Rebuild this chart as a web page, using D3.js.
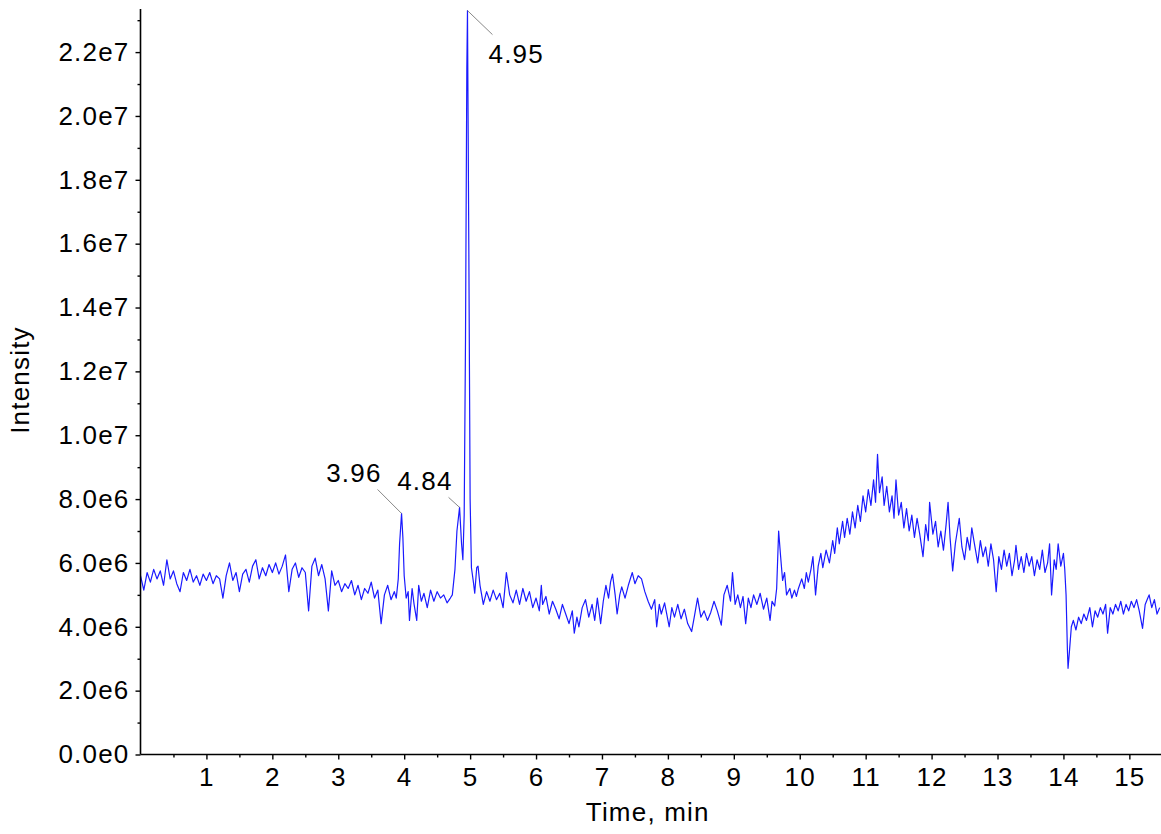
<!DOCTYPE html>
<html>
<head>
<meta charset="utf-8">
<script src="https://cdn.jsdelivr.net/npm/d3@7/dist/d3.min.js"></script>
<style>
  body { margin: 0; background: #fff; }
  text { font-family: "Liberation Sans", Arial, sans-serif; }
</style>
</head>
<body>
<div id="chart"></div>
<script>
// chromatogram trace: [time (min), intensity (x1e6)]
const trace = [
  [0.00,5.6],[0.05,5.15],[0.10,5.7],[0.15,5.4],[0.20,5.8],[0.25,5.5],[0.30,5.75],[0.35,5.3],[0.40,6.1],[0.45,5.5],
  [0.50,5.75],[0.55,5.35],[0.60,5.1],[0.65,5.7],[0.70,5.45],[0.75,5.8],[0.80,5.4],[0.85,5.6],[0.90,5.3],[0.95,5.65],
  [1.00,5.45],[1.05,5.7],[1.10,5.35],[1.15,5.6],[1.20,5.5],[1.25,4.9],[1.30,5.6],[1.35,6.0],[1.40,5.45],[1.45,5.7],
  [1.50,5.1],[1.55,5.65],[1.60,5.8],[1.65,5.4],[1.70,5.9],[1.75,6.1],[1.80,5.5],[1.85,5.85],[1.90,5.6],[1.95,5.95],
  [2.00,5.7],[2.05,6.0],[2.10,5.65],[2.15,5.9],[2.20,6.25],[2.25,5.1],[2.30,5.8],[2.35,6.0],[2.40,5.55],[2.45,5.85],
  [2.50,5.7],[2.55,4.5],[2.60,5.9],[2.65,6.15],[2.70,5.6],[2.75,5.95],[2.80,5.5],[2.85,4.5],[2.90,5.75],[2.95,5.3],
  [3.00,5.45],[3.05,5.1],[3.10,5.35],[3.15,5.2],[3.20,5.45],[3.25,5.0],[3.30,5.3],[3.35,4.85],[3.40,5.2],[3.45,5.05],
  [3.50,5.4],[3.55,4.9],[3.60,5.15],[3.65,4.1],[3.70,5.0],[3.75,5.3],[3.80,4.85],[3.85,5.1],[3.88,4.9],[3.91,5.5],
  [3.93,6.6],[3.96,7.55],[3.98,6.8],[4.00,5.6],[4.03,4.9],[4.06,5.1],[4.08,4.2],[4.12,5.2],[4.15,4.7],[4.19,4.2],
  [4.22,5.3],[4.26,4.8],[4.30,5.05],[4.35,4.6],[4.40,5.15],[4.45,4.8],[4.50,5.1],[4.55,4.9],[4.60,5.0],[4.65,4.75],
  [4.70,4.9],[4.73,5.0],[4.77,5.8],[4.80,7.0],[4.84,7.74],[4.87,6.6],[4.89,6.1],[4.91,7.5],[4.93,13.0],[4.95,21.5],
  [4.96,23.3],[4.98,16.0],[5.00,8.0],[5.02,5.85],[5.05,5.4],[5.07,5.05],[5.10,5.85],[5.12,5.9],[5.15,5.3],[5.20,4.7],
  [5.25,5.1],[5.30,4.8],[5.35,5.15],[5.40,4.85],[5.45,5.05],[5.50,4.6],[5.55,5.7],[5.60,5.0],[5.65,4.75],[5.70,5.15],
  [5.75,4.7],[5.80,5.2],[5.85,4.8],[5.90,5.1],[5.95,4.6],[6.00,4.9],[6.05,4.5],[6.08,5.3],[6.10,4.7],[6.15,4.95],
  [6.20,4.4],[6.25,4.8],[6.30,4.55],[6.35,4.25],[6.40,4.7],[6.45,4.4],[6.50,4.1],[6.55,4.5],[6.58,3.8],[6.62,4.3],
  [6.65,4.0],[6.70,4.6],[6.75,4.85],[6.80,4.3],[6.85,4.7],[6.89,4.2],[6.93,4.9],[6.98,4.1],[7.02,4.8],[7.06,5.3],
  [7.10,4.9],[7.13,5.4],[7.16,5.65],[7.20,5.0],[7.23,4.4],[7.27,5.0],[7.30,5.25],[7.35,4.9],[7.40,5.3],[7.46,5.7],
  [7.50,5.35],[7.55,5.6],[7.60,5.5],[7.65,5.1],[7.70,4.8],[7.75,4.55],[7.80,4.85],[7.83,4.0],[7.87,4.7],[7.90,4.4],
  [7.95,4.75],[8.02,4.0],[8.06,4.6],[8.10,4.3],[8.15,4.7],[8.20,4.25],[8.25,4.55],[8.30,4.1],[8.36,3.85],[8.40,4.3],
  [8.45,4.9],[8.50,4.3],[8.55,4.5],[8.60,4.2],[8.65,4.45],[8.70,4.8],[8.75,4.5],[8.81,4.05],[8.85,5.0],[8.90,5.3],
  [8.95,4.8],[8.98,5.7],[9.02,4.7],[9.06,5.0],[9.10,4.6],[9.14,4.95],[9.18,4.1],[9.22,4.9],[9.26,4.6],[9.30,5.0],
  [9.35,4.7],[9.40,5.05],[9.45,4.55],[9.50,4.9],[9.55,4.2],[9.58,4.8],[9.62,4.65],[9.65,5.2],[9.68,7.0],[9.71,6.2],
  [9.74,5.45],[9.77,5.7],[9.80,5.0],[9.85,5.2],[9.88,4.9],[9.92,5.15],[9.95,4.95],[9.98,5.2],[10.03,5.5],[10.07,5.2],
  [10.10,5.7],[10.13,5.4],[10.17,5.8],[10.20,6.2],[10.24,5.0],[10.28,5.9],[10.32,6.3],[10.35,5.85],[10.40,6.4],[10.45,6.0],
  [10.50,6.7],[10.53,6.3],[10.57,7.1],[10.60,6.6],[10.65,7.3],[10.68,6.8],[10.72,7.4],[10.76,6.9],[10.80,7.6],[10.84,7.1],
  [10.88,7.8],[10.92,7.3],[10.96,8.1],[11.00,7.6],[11.04,8.3],[11.08,7.8],[11.12,8.6],[11.15,7.9],[11.18,9.4],[11.21,8.2],
  [11.25,8.7],[11.28,7.8],[11.32,8.4],[11.36,7.6],[11.40,8.1],[11.43,7.4],[11.46,8.6],[11.50,7.5],[11.54,7.9],[11.58,7.1],
  [11.62,7.7],[11.66,7.0],[11.70,7.5],[11.74,6.8],[11.78,7.4],[11.82,6.9],[11.87,6.2],[11.91,7.2],[11.95,6.7],[11.97,7.9],
  [12.02,6.9],[12.06,7.3],[12.10,6.5],[12.14,7.0],[12.18,6.4],[12.22,7.2],[12.25,7.9],[12.28,6.8],[12.32,5.75],[12.36,6.6],
  [12.39,7.0],[12.42,7.4],[12.46,6.5],[12.50,6.1],[12.54,6.8],[12.58,6.4],[12.61,7.1],[12.65,6.6],[12.70,6.0],[12.74,6.7],
  [12.78,6.2],[12.82,6.5],[12.86,5.9],[12.90,6.6],[12.94,6.1],[12.98,5.1],[13.02,6.2],[13.06,5.8],[13.10,6.4],[13.14,5.9],
  [13.18,6.3],[13.22,5.6],[13.26,6.1],[13.28,6.55],[13.32,5.8],[13.36,6.2],[13.40,5.7],[13.44,6.3],[13.48,5.9],[13.52,6.2],
  [13.56,5.6],[13.60,6.1],[13.64,5.8],[13.68,6.4],[13.72,5.7],[13.76,6.0],[13.79,6.6],[13.82,5.0],[13.86,6.1],[13.89,5.8],
  [13.92,6.6],[13.96,5.9],[14.00,6.3],[14.02,5.8],[14.04,5.0],[14.06,3.3],[14.07,2.7],[14.09,3.2],[14.12,4.0],[14.15,4.2],
  [14.19,3.9],[14.23,4.3],[14.27,4.1],[14.31,4.4],[14.35,4.2],[14.40,4.6],[14.44,4.0],[14.48,4.5],[14.52,4.3],[14.56,4.6],
  [14.60,4.4],[14.64,4.7],[14.67,3.8],[14.71,4.6],[14.75,4.4],[14.79,4.7],[14.83,4.5],[14.87,4.8],[14.91,4.4],[14.95,4.7],
  [14.99,4.5],[15.03,4.8],[15.07,4.6],[15.11,4.85],[15.15,4.5],[15.20,3.95],[15.24,4.7],[15.28,4.9],[15.30,5.0],[15.34,4.6],
  [15.38,4.85],[15.42,4.4],[15.46,4.6]
];

// annotated peaks: label, peak time, peak intensity (x1e6), side of label
const peakLabels = [
  { label: '3.96', t: 3.96, v: 7.55, side: 'left' },
  { label: '4.84', t: 4.84, v: 7.74, side: 'left' },
  { label: '4.95', t: 4.96, v: 23.3, side: 'right' }
];

const xTicks = [1, 2, 3, 4, 5, 6, 7, 8, 9, 10, 11, 12, 13, 14, 15];
const xMinorTicks = [0.5, 1.5, 2.5, 3.5, 4.5, 5.5, 6.5, 7.5, 8.5, 9.5, 10.5, 11.5, 12.5, 13.5, 14.5];
const yTicks = [0, 2e6, 4e6, 6e6, 8e6, 1e7, 1.2e7, 1.4e7, 1.6e7, 1.8e7, 2e7, 2.2e7];
const yMinorTicks = [1e6, 3e6, 5e6, 7e6, 9e6, 1.1e7, 1.3e7, 1.5e7, 1.7e7, 1.9e7, 2.1e7, 2.3e7];

const width = 1161, height = 834;
const plot = { left: 140.5, right: 1161, top: 9, bottom: 754.5 };

const svg = d3.select('#chart').append('svg')
  .attr('width', width)
  .attr('height', height)
  .style('background', '#fff');

const x = d3.scaleLinear().domain([0, 15.48]).range([plot.left, plot.right]);
const y = d3.scaleLinear().domain([0, 2.335e7]).range([plot.bottom, plot.top]);

function sciFormat(v) {
  if (v === 0) return '0.0e0';
  const e = Math.floor(Math.log10(v) + 1e-9);
  return (v / Math.pow(10, e)).toFixed(1) + 'e' + e;
}

svg.append('clipPath').attr('id', 'clip')
  .append('rect')
  .attr('x', plot.left).attr('y', plot.top - 1)
  .attr('width', plot.right - plot.left).attr('height', plot.bottom - plot.top + 1);

const line = d3.line()
  .x(d => x(d[0]))
  .y(d => y(d[1] * 1e6));

svg.append('path')
  .datum(trace)
  .attr('clip-path', 'url(#clip)')
  .attr('fill', 'none')
  .attr('stroke', '#1a1aff')
  .attr('stroke-width', 1.2)
  .attr('stroke-linejoin', 'round')
  .attr('d', line);

// axes
const fontSize = 26;

const yAxis = svg.append('g')
  .attr('transform', `translate(${plot.left},0)`)
  .call(d3.axisLeft(y).tickValues(yTicks).tickSize(5).tickPadding(6).tickFormat(sciFormat));
svg.append('g')
  .attr('transform', `translate(${plot.left},0)`)
  .call(d3.axisLeft(y).tickValues(yMinorTicks).tickSize(3).tickFormat(''))
  .call(g => g.select('.domain').remove());

const xAxis = svg.append('g')
  .attr('transform', `translate(0,${plot.bottom})`)
  .call(d3.axisBottom(x).tickValues(xTicks).tickSize(5).tickPadding(8).tickFormat(d3.format('d')));
svg.append('g')
  .attr('transform', `translate(0,${plot.bottom})`)
  .call(d3.axisBottom(x).tickValues(xMinorTicks).tickSize(3).tickFormat(''))
  .call(g => g.select('.domain').remove());

yAxis.select('.domain').attr('d', `M0,${plot.top}V${plot.bottom}`);
xAxis.select('.domain').attr('d', `M${plot.left},0H${plot.right}`);

svg.selectAll('.domain').attr('stroke', '#000').attr('stroke-width', 1.6);
svg.selectAll('.tick line').attr('stroke', '#000').attr('stroke-width', 1.4);
svg.selectAll('.tick text')
  .attr('fill', '#000')
  .style('font-size', fontSize + 'px')
  .style('letter-spacing', '1.2px')
  .style('font-family', '"Liberation Sans", Arial, sans-serif');

// axis titles
svg.append('text')
  .attr('x', (x(0) + x(15.48)) / 2 - 3)
  .attr('y', 821)
  .attr('text-anchor', 'middle')
  .style('font-size', fontSize + 'px')
  .style('letter-spacing', '1.2px')
  .text('Time, min');

svg.append('text')
  .attr('transform', `translate(29,380) rotate(-90)`)
  .attr('text-anchor', 'middle')
  .style('font-size', fontSize + 'px')
  .style('letter-spacing', '1.2px')
  .text('Intensity');

// peak labels with leader lines
peakLabels.forEach(p => {
  const px = x(p.t), py = Math.max(y(p.v * 1e6), plot.top);
  const g = svg.append('g');
  if (p.side === 'left') {
    const dx = p.label === '3.96' ? -24 : -11;
    const dy = p.label === '3.96' ? -24 : -10;
    g.append('line')
      .attr('x1', px).attr('y1', py)
      .attr('x2', px + dx).attr('y2', py + dy)
      .attr('stroke', '#888').attr('stroke-width', 1);
    g.append('text')
      .attr('x', px + dx + 4)
      .attr('y', py + dy - 7)
      .attr('text-anchor', 'end')
      .style('font-size', fontSize + 'px')
      .style('letter-spacing', '1.2px')
      .text(p.label);
  } else {
    g.append('line')
      .attr('x1', px).attr('y1', py)
      .attr('x2', px + 25).attr('y2', py + 24)
      .attr('stroke', '#888').attr('stroke-width', 1);
    g.append('text')
      .attr('x', px + 21)
      .attr('y', py + 52)
      .attr('text-anchor', 'start')
      .style('font-size', fontSize + 'px')
      .style('letter-spacing', '1.2px')
      .text(p.label);
  }
});
</script>
</body>
</html>
